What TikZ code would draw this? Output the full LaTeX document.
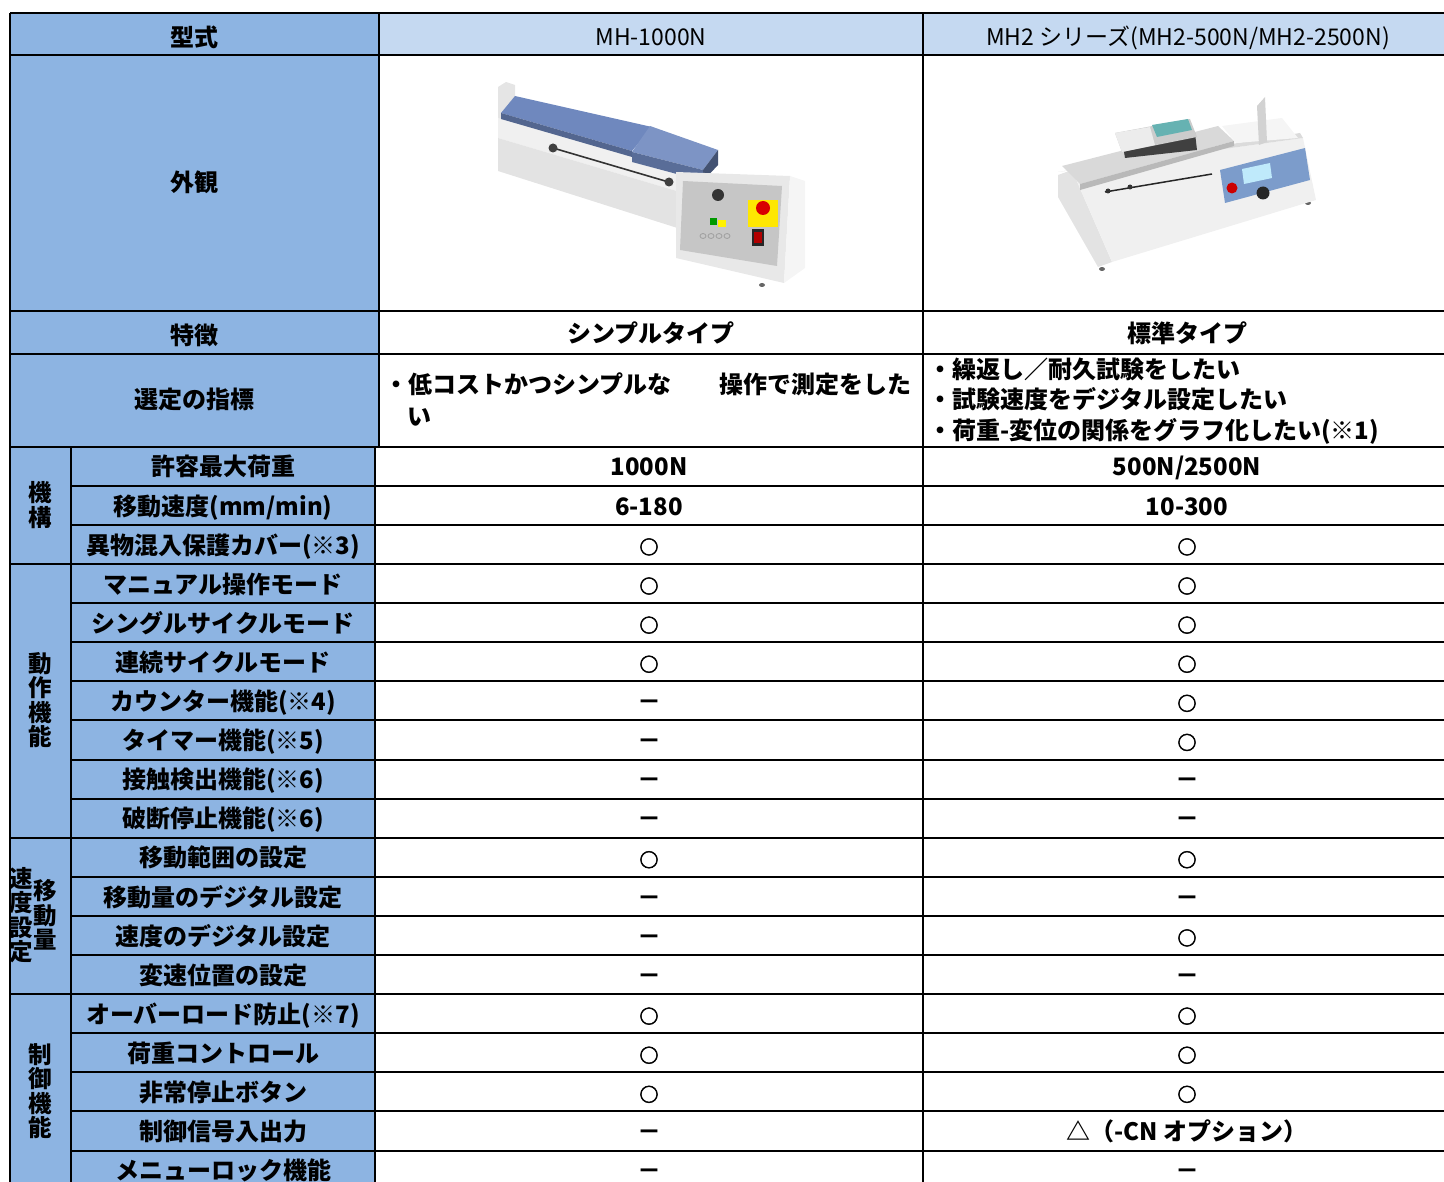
\documentclass[tikz,border=0pt]{standalone}
\usepackage{fontspec}
\setmainfont{Noto Sans CJK JP}
\newfontfamily\maruface{Noto Sans CJK JP}[FakeBold=2.5]
\usetikzlibrary{calc}
\definecolor{cellblue}{HTML}{8DB4E2}
\definecolor{headblue}{HTML}{C5D9F1}
\definecolor{plateblue}{HTML}{6F88BE}
\definecolor{panelblue}{HTML}{7C9CCB}
\newcommand\maru{{\maruface\fontsize{19}{21}\selectfont ○}}

\begin{document}
\begin{tikzpicture}[x=1pt,y=-1pt,
  every node/.style={inner sep=0pt},
  lbl/.style={font=\bfseries\fontsize{24}{26}\selectfont, text height=20pt, text depth=2.6pt},
  val/.style={font=\fontsize{23}{26}\selectfont, text height=20pt, text depth=2.6pt},
  vert/.style={font=\bfseries\fontsize{23.5}{24.5}\selectfont, align=center},
  rule/.style={line width=2pt}]
\useasboundingbox (0,0) rectangle (1444,1182);
\clip (0,0) rectangle (1444,1182);

% cell fills
\fill[cellblue] (10,13) rectangle (379,446.7);
\fill[cellblue] (10,446.7) rectangle (375,1192);
\fill[headblue] (379,13) rectangle (1451,55);

% MH-1000N
\fill[black!60] (505,169) ellipse (3 and 2);
\fill[black!60] (762,285) ellipse (3 and 2);
\fill[gray!20] (498,87) -- (506,82) -- (515,85) -- (515,126) -- (498,124) -- cycle;
\fill[gray!12] (498,118) -- (690,170) -- (690,195) -- (498,138) -- cycle;
\fill[gray!22] (498,138) -- (690,195) -- (690,232) -- (498,171) -- cycle;
\draw[black!70, line width=1pt] (548,130) -- (632,153);
\draw[black!80, line width=1.6pt] (553,148) -- (672,183);
\fill[black!75] (553,148) circle (4.5);
\fill[black!75] (669,182) circle (4.5);
\fill[plateblue] (515,96) -- (652,127) -- (632,151) -- (501,113) -- cycle;
\fill[plateblue!75!black] (501,113) -- (632,151) -- (632,157) -- (501,119) -- cycle;
\fill[plateblue!90!white] (650,126) -- (718,150) -- (703,170) -- (632,152) -- cycle;
\fill[plateblue!80!black] (632,152) -- (703,170) -- (703,181) -- (632,162) -- cycle;
\fill[plateblue!60!black] (703,170) -- (718,150) -- (718,165) -- (703,181) -- cycle;
\fill[gray!18] (676,172) -- (790,176) -- (784,283) -- (676,258) -- cycle;
\fill[gray!8] (790,176) -- (805,181) -- (805,268) -- (784,283) -- cycle;
\fill[gray!45] (683,181) -- (782,186) -- (777,266) -- (680,250) -- cycle;
\fill[black!80] (718,195) circle (6);
\fill[yellow!90!orange] (748,200) rectangle (778,227);
\fill[red!85!black] (763,208) circle (7);
\fill[green!60!black] (710,218) rectangle (717,225);
\fill[yellow] (718,220) rectangle (726,227);
\foreach \bx in {703,711,719,727}
  \draw[gray!75, line width=0.8pt] (\bx,236) ellipse (3 and 2.5);
\fill[black!85] (752,229) rectangle (764,246);
\fill[red!70!black] (754,232) rectangle (762,243);

% MH2
\fill[black!60] (1102,269) ellipse (3 and 2);
\fill[black!60] (1308,203) ellipse (3 and 2);
\fill[gray!22] (1058,175) -- (1072,170) -- (1112,262) -- (1098,267) -- (1058,197) -- cycle;
\fill[gray!12] (1072,170) -- (1303,138) -- (1316,200) -- (1112,262) -- cycle;
\fill[gray!28] (1058,172) -- (1300,133) -- (1303,138) -- (1072,170) -- cycle;
\fill[gray!30] (1062,166) -- (1218,126) -- (1234,141) -- (1080,184) -- cycle;
\fill[gray!55] (1080,184) -- (1234,141) -- (1234,146) -- (1080,190) -- cycle;
\draw[black!85, line width=1.5pt] (1105,192) -- (1212,174);
\fill[black!80] (1108,191) circle (2.5);
\fill[black!80] (1130,187) circle (2.5);
\fill[gray!8] (1222,126) -- (1282,118) -- (1298,138) -- (1236,143) -- cycle;
\fill[gray!35] (1257,106) -- (1265,97) -- (1267,142) -- (1259,145) -- cycle;
\fill[black!75] (1123,146) -- (1195,133) -- (1197,150) -- (1125,158) -- cycle;
\fill[gray!40] (1115,133) -- (1190,119) -- (1197,137) -- (1122,152) -- cycle;
\fill[gray!15] (1115,133) -- (1150,127) -- (1155,145) -- (1122,152) -- cycle;
\fill[teal!60] (1152,125) -- (1188,119) -- (1192,130) -- (1157,137) -- cycle;
\fill[panelblue] (1220,170) -- (1305,148) -- (1310,180) -- (1225,203) -- cycle;
\fill[cyan!25] (1242,169) -- (1270,163) -- (1272,178) -- (1244,184) -- cycle;
\fill[red!80!black] (1232,188) circle (5.5);
\fill[black!85] (1263,193) circle (6.5);

% grid
\foreach \y in {13,55,311,354,446.7}
  \draw[rule] (10,\y) -- (1451,\y);
\foreach \i in {1,...,18}
  \draw[rule] (71,{446.7+39.1*\i}) -- (1451,{446.7+39.1*\i});
\foreach \i in {3,10,14}
  \draw[rule] (10,{446.7+39.1*\i}) -- (71,{446.7+39.1*\i});
\draw[rule] (10,13) -- (10,1192);
\draw[rule] (379,13) -- (379,446.7);
\draw[rule] (375,446.7) -- (375,1192);
\draw[rule] (71,446.7) -- (71,1192);
\draw[rule] (923,13) -- (923,1192);
\draw[rule] (1451,13) -- (1451,1192);

% upper rows
\node[lbl] (model) at (194,38) {型式};
\node[val] (mh-a) at (651,37) {MH-1000N};
\node[val] (mh-b) at (1188,37) {MH2 シリーズ(MH2-500N/MH2-2500N)};
\node[lbl] (look) at (194,183) {外観};
\node[lbl] (kind) at (194,336) {特徴};
\node[lbl] (kind-a) at (651,334) {シンプルタイプ};
\node[lbl] (kind-b) at (1187,334) {標準タイプ};
\node[lbl] (pick) at (194,400) {選定の指標};
\node[lbl, anchor=west] (pick-a1) at (384,385) {・低コストかつシンプルな　　操作で測定をした};
\node[lbl, anchor=west] (pick-a2) at (407,417) {い};
\node[lbl, anchor=west] (pick-b1) at (928,370) {・繰返し／耐久試験をしたい};
\node[lbl, anchor=west] (pick-b2) at (928,400) {・試験速度をデジタル設定したい};
\node[lbl, anchor=west] (pick-b3) at (928,431) {・荷重-変位の関係をグラフ化したい(※1)};

% groups
\node[vert] (grp-mech) at (40,505) {機\\構};
\node[vert] (grp-op) at (40,700) {動\\作\\機\\能};
\node[vert] (grp-set-a) at (21,915) {速\\度\\設\\定};
\node[vert] (grp-set-b) at (45,915) {移\\動\\量};
\node[vert] (grp-ctl) at (40,1091) {制\\御\\機\\能};

% feature rows
\foreach \lab/\ma/\mb [count=\i] in {
    許容最大荷重/1000N/{500N/2500N},
    {移動速度(mm/min)}/6-180/10-300,
    異物混入保護カバー(※3)/\maru/\maru,
    マニュアル操作モード/\maru/\maru,
    シングルサイクルモード/\maru/\maru,
    連続サイクルモード/\maru/\maru,
    カウンター機能(※4)/－/\maru,
    タイマー機能(※5)/－/\maru,
    接触検出機能(※6)/－/－,
    破断停止機能(※6)/－/－,
    移動範囲の設定/\maru/\maru,
    移動量のデジタル設定/－/－,
    速度のデジタル設定/－/\maru,
    変速位置の設定/－/－,
    オーバーロード防止(※7)/\maru/\maru,
    荷重コントロール/\maru/\maru,
    非常停止ボタン/\maru/\maru,
    制御信号入出力/－/△（-CN オプション）,
    メニューロック機能/－/－}
{
  \pgfmathsetmacro\yc{446.7+39.1*(\i-0.5)+1}
  \node[lbl] (item-\i) at (223,\yc) {\lab};
  \node[lbl] (mha-\i) at (649,\yc) {\ma};
  \node[lbl] (mhb-\i) at (1187,\yc) {\mb};
}
\end{tikzpicture}
\end{document}
